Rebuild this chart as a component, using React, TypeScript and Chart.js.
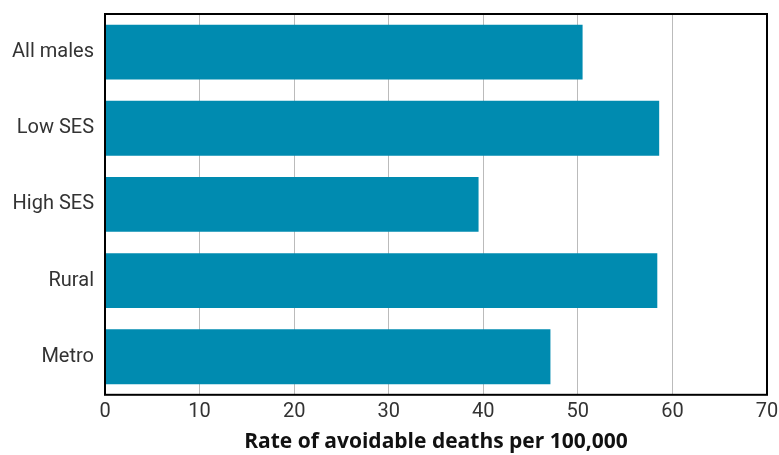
import React, { useEffect, useRef } from "react";
import { Chart, registerables } from "chart.js";

Chart.register(...registerables);

const categories = ["All males", "Low SES", "High SES", "Rural", "Metro"];
const values = [50.5, 58.6, 39.5, 58.4, 47.1];
const xTicks = [0, 10, 20, 30, 40, 50, 60, 70];
const axisTitle = "Rate of avoidable deaths per 100,000";

const frame = {
  id: "frame",
  afterDraw(chart: any) {
    const { ctx, chartArea } = chart;
    ctx.save();
    ctx.strokeStyle = "#000";
    ctx.lineWidth = 2;
    ctx.strokeRect(chartArea.left, chartArea.top, chartArea.right - chartArea.left, chartArea.bottom - chartArea.top);
    ctx.restore();
  },
};

export default function App() {
  const ref = useRef<HTMLCanvasElement>(null);
  useEffect(() => {
    const chart = new Chart(ref.current!, {
      type: "bar",
      data: {
        labels: categories,
        datasets: [
          {
            data: values,
            backgroundColor: "#008bb0",
            categoryPercentage: 0.72,
            barPercentage: 1,
          },
        ],
      },
      options: {
        indexAxis: "y",
        animation: false,
        responsive: true,
        maintainAspectRatio: false,
        layout: { padding: { top: 14, right: 12, left: 0, bottom: 0 } },
        plugins: { legend: { display: false }, tooltip: { enabled: false } },
        scales: {
          x: {
            min: 0,
            max: 70,
            afterBuildTicks(scale: any) {
              scale.ticks = xTicks.map((v) => ({ value: v }));
            },
            afterFit(scale: any) {
              scale.paddingRight = 0;
              scale.paddingLeft = 0;
            },
            grid: { color: "#bbbbbb", lineWidth: 1, drawTicks: false },
            border: { display: false },
            ticks: {
              color: "#333",
              padding: 5,
              font: { family: "Roboto", size: 20 },
            },
            title: {
              display: true,
              text: axisTitle,
              color: "#111",
              padding: { top: 1, bottom: 0 },
              font: { family: "Open Sans", size: 21, weight: "bold" },
            },
          },
          y: {
            grid: { display: false, drawTicks: false },
            border: { display: false },
            afterFit(scale: any) {
              scale.width = 105;
              scale.paddingTop = 0;
              scale.paddingBottom = 0;
            },
            ticks: {
              color: "#333",
              padding: 11,
              font: { family: "Roboto", size: 20 },
            },
          },
        },
      },
      plugins: [frame],
    });
    return () => chart.destroy();
  }, []);
  return (
    <div style={{ position: "fixed", left: 0, top: 0, width: 779, height: 455, background: "#fff" }}>
      <canvas ref={ref} />
    </div>
  );
}
